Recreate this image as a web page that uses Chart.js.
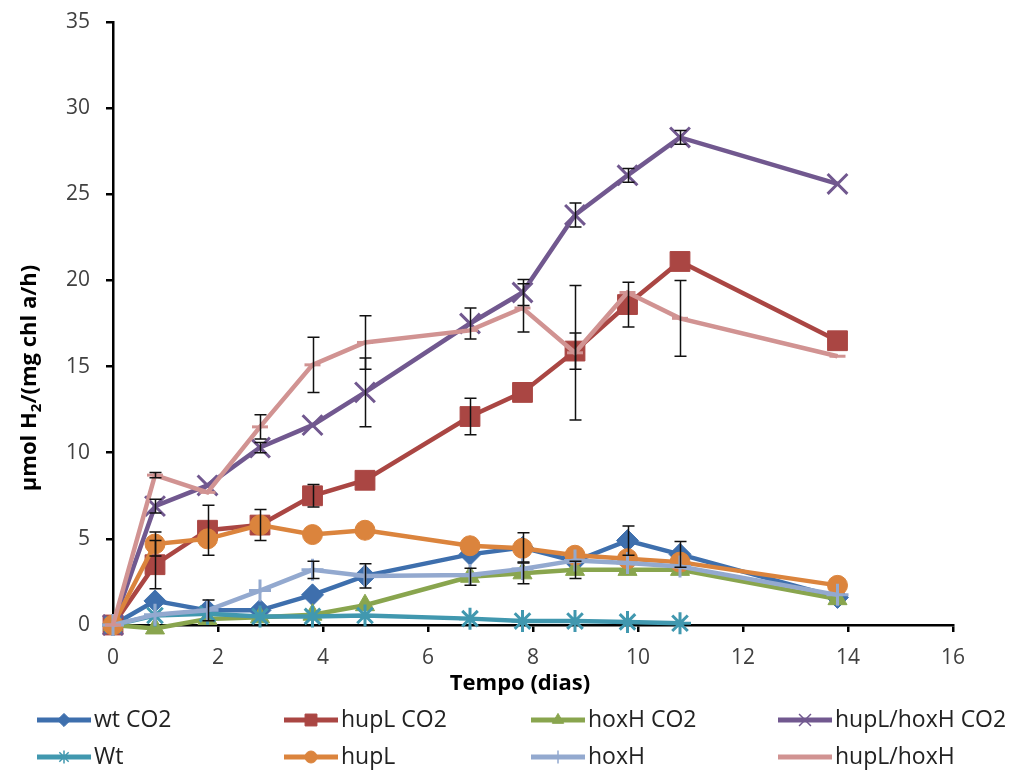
<!DOCTYPE html>
<html lang="pt">
<head>
<meta charset="UTF-8">
<title>Produção de H2</title>
<style>
body {margin:0; background:#fff;}
#wrap {width:1009px; height:771px; position:relative;}
</style>
</head>
<body>
<div id="wrap"><canvas id="chart"></canvas></div>
<script src="https://cdn.jsdelivr.net/npm/chart.js"></script>
<script>
// dias de cultura
const days = [0, 0.8, 1.8, 2.8, 3.8, 4.8, 6.8, 7.8, 8.8, 9.8, 10.8, 13.8];

const seriesNames = ['wt CO2', 'hupL CO2', 'hoxH CO2', 'hupL/hoxH CO2', 'Wt', 'hupL', 'hoxH', 'hupL/hoxH'];

const wtCO2       = [0, 1.4, 0.85, 0.85, 1.75, 2.85, 4.1, 4.5, 3.7, 4.9, 4.1, 1.6];
const hupLCO2     = [0, 3.5, 5.5, 5.8, 7.5, 8.4, 12.1, 13.5, 15.9, 18.6, 21.1, 16.5];
const hoxHCO2     = [0, -0.2, 0.35, 0.45, 0.6, 1.15, 2.8, 3.0, 3.2, 3.2, 3.2, 1.5];
const hupLhoxHCO2 = [0, 6.9, 8.1, 10.3, 11.6, 13.5, 17.5, 19.3, 23.8, 26.1, 28.3, 25.6];
const wt          = [0, 0.55, 0.65, 0.5, 0.5, 0.55, 0.37, 0.23, 0.23, 0.18, 0.1, null];
const hupL        = [0, 4.7, 5.0, 5.8, 5.25, 5.5, 4.6, 4.45, 4.05, 3.85, 3.65, 2.3];
const hoxH        = [0, 0.6, 0.85, 2.0, 3.2, 2.85, 2.9, 3.25, 3.75, 3.6, 3.4, 1.75];
const hupLhoxH    = [0, 8.7, 7.7, 11.5, 15.1, 16.4, 17.1, 18.4, 15.8, 19.3, 17.8, 15.6];

// desvio padrão (barras de erro)
const wtCO2Err       = [0, 0, 0.6, 0, 0, 0.7, 0, 0.85, 0, 0.85, 0.75, 0];
const hupLCO2Err     = [0, 1.4, 1.45, 0.9, 0.65, 0, 1.06, 0, 1.05, 1.3, 0, 0];
const hoxHCO2Err     = [0, 0, 0, 0, 0, 0, 0.5, 0.6, 0.5, 0, 0, 0];
const hupLhoxHCO2Err = [0, 0.4, 0, 0.3, 0, 2.0, 0.9, 0.75, 0.7, 0.4, 0.4, 0];
const wtErr          = [0, 0, 0, 0, 0, 0, 0, 0, 0, 0, 0, 0];
const hupLErr        = [0, 0.7, 0, 0, 0, 0, 0, 0, 0, 0, 0, 0];
const hoxHErr        = [0, 0, 0, 0, 0.5, 0, 0, 0, 0, 0, 0, 0];
const hupLhoxHErr    = [0, 0.15, 0, 0.7, 1.6, 1.55, 0, 1.4, 3.9, 0, 2.2, 0];

const xTicks = [0, 2, 4, 6, 8, 10, 12, 14, 16];
const yTicks = [0, 5, 10, 15, 20, 25, 30, 35];

const allValues = [wtCO2, hupLCO2, hoxHCO2, hupLhoxHCO2, wt, hupL, hoxH, hupLhoxH];
const allErrors = [wtCO2Err, hupLCO2Err, hoxHCO2Err, hupLhoxHCO2Err, wtErr, hupLErr, hoxHErr, hupLhoxHErr];
const colors = ['#3E6FAD', '#AA4643', '#89A54E', '#71588F', '#4198AF', '#DB843D', '#93A9CF', '#D19392'];
const styles = ['rectRot', 'rect', 'triangle', 'crossRot', 'star', 'circle', 'cross', 'line'];
const radii  = [11, 14, 11, 14, 11, 10, 11, 8];

const datasets = seriesNames.map((name, i) => ({
  label: name,
  data: days.map((d, j) => ({x: d, y: allValues[i][j]})).filter(p => p.y !== null),
  errors: allErrors[i],
  borderColor: colors[i],
  backgroundColor: colors[i],
  pointBackgroundColor: colors[i],
  pointBorderColor: colors[i],
  pointStyle: styles[i],
  pointRadius: radii[i],
  pointBorderWidth: (styles[i] === 'crossRot' || styles[i] === 'star' || styles[i] === 'cross' || styles[i] === 'line') ? 3 : 1,
  borderWidth: 4.5,
  tension: 0,
  clip: false,
  order: seriesNames.length - i
}));

const FONT = "'Open Sans', 'Liberation Sans', sans-serif";

// barras de erro, títulos dos eixos e legenda desenhados à mão
const extras = {
  id: 'extras',
  afterDatasetsDraw(chart) {
    const ctx = chart.ctx, xs = chart.scales.x, ys = chart.scales.y;
    ctx.save();
    ctx.strokeStyle = '#111';
    ctx.lineWidth = 1.5;
    chart.data.datasets.forEach(ds => {
      ds.data.forEach((p, j) => {
        const e = ds.errors[j];
        if (!e) return;
        const px = Math.round(xs.getPixelForValue(p.x)) + 0.5;
        const top = ys.getPixelForValue(p.y + e), bot = ys.getPixelForValue(p.y - e);
        ctx.beginPath();
        ctx.moveTo(px, top); ctx.lineTo(px, bot);
        ctx.moveTo(px - 6, top); ctx.lineTo(px + 6, top);
        ctx.moveTo(px - 6, bot); ctx.lineTo(px + 6, bot);
        ctx.stroke();
      });
    });
    ctx.restore();
  },
  afterDraw(chart) {
    const ctx = chart.ctx;
    ctx.save();
    ctx.fillStyle = '#000';
    // título do eixo x
    ctx.font = 'bold 22px ' + FONT;
    ctx.textAlign = 'center';
    ctx.textBaseline = 'middle';
    ctx.fillText('Tempo (dias)', 520, 684);
    // título do eixo y com subscrito
    ctx.translate(30, 378);
    ctx.rotate(-Math.PI / 2);
    const a = 'µmol H', b = '/(mg chl a/h)';
    ctx.font = 'bold 22px ' + FONT;
    const wa = ctx.measureText(a).width, wb = ctx.measureText(b).width;
    ctx.font = 'bold 15px ' + FONT;
    const ws = ctx.measureText('2').width;
    let x0 = -(wa + ws + wb) / 2;
    ctx.textAlign = 'left';
    ctx.font = 'bold 22px ' + FONT;
    ctx.fillText(a, x0, 0);
    ctx.font = 'bold 15px ' + FONT;
    ctx.fillText('2', x0 + wa, 7);
    ctx.font = 'bold 22px ' + FONT;
    ctx.fillText(b, x0 + wa + ws, 0);
    ctx.restore();

    // legenda 4 x 2
    ctx.save();
    chart.data.datasets.forEach((ds, i) => {
      const col = i % 4, row = Math.floor(i / 4);
      const lx = 37 + col * 247, ly = 720 + row * 37;
      ctx.strokeStyle = ds.borderColor;
      ctx.lineWidth = 5;
      ctx.beginPath();
      ctx.moveTo(lx, ly); ctx.lineTo(lx + 54, ly);
      ctx.stroke();
      ctx.fillStyle = ds.backgroundColor;
      ctx.strokeStyle = ds.borderColor;
      ctx.lineWidth = ds.pointStyle === 'star' || ds.pointStyle === 'crossRot' || ds.pointStyle === 'cross' ? 1.5 : 1;
      if (ds.pointStyle !== 'line') {
        Chart.helpers.drawPoint(ctx, {pointStyle: ds.pointStyle, radius: ds.pointRadius * 0.6, rotation: 0, borderWidth: ctx.lineWidth}, lx + 27, ly);
      }
      ctx.fillStyle = '#222';
      ctx.font = '23px ' + FONT;
      ctx.textAlign = 'left';
      ctx.textBaseline = 'middle';
      ctx.fillText(ds.label, lx + 57, ly);
    });
    ctx.restore();
  }
};

new Chart(document.getElementById('chart'), {
  type: 'line',
  data: {datasets},
  options: {
    responsive: true,
    maintainAspectRatio: false,
    animation: false,
    layout: {padding: {left: 0, top: 22, right: 56, bottom: 76}},
    plugins: {legend: {display: false}, tooltip: {enabled: false}},
    scales: {
      x: {
        type: 'linear', min: 0, max: 16,
        afterBuildTicks: s => { s.ticks = xTicks.map(v => ({value: v})); },
        afterFit: s => { s.height = 70; s.paddingLeft = 0; s.paddingRight = 0; },
        border: {color: '#000', width: 2.5},
        grid: {drawOnChartArea: false, drawTicks: true, tickLength: 7, color: '#000', lineWidth: 2.5},
        ticks: {color: '#404040', font: {family: FONT, size: 21}, padding: 13, maxRotation: 0}
      },
      y: {
        min: 0, max: 35,
        afterBuildTicks: s => { s.ticks = yTicks.map(v => ({value: v})); },
        afterFit: s => { s.width = 113; s.paddingTop = 0; s.paddingBottom = 0; },
        border: {color: '#000', width: 2.5},
        grid: {drawOnChartArea: false, drawTicks: true, tickLength: 7, color: '#000', lineWidth: 2.5},
        ticks: {color: '#404040', font: {family: FONT, size: 21}, padding: 16}
      }
    }
  },
  plugins: [extras]
});
</script>
</body>
</html>
